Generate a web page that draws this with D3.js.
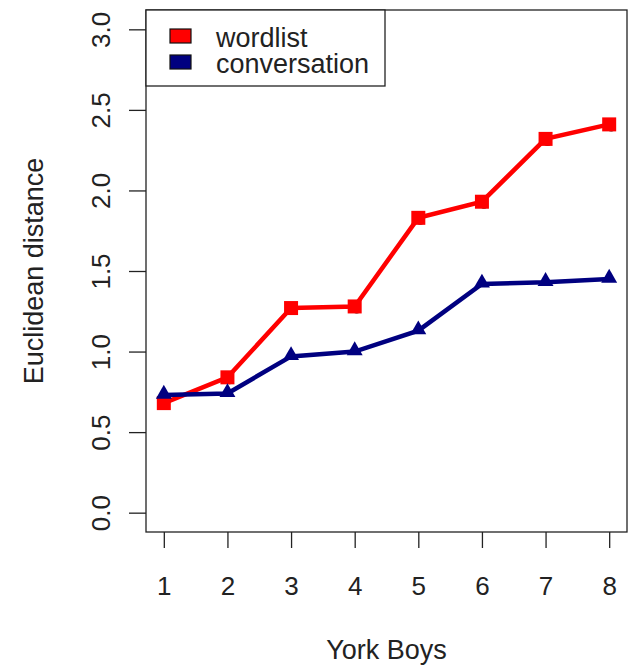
<!DOCTYPE html>
<html>
<head>
<meta charset="utf-8">
<script src="https://cdn.jsdelivr.net/npm/d3@7"></script>
<style>
  body { margin: 0; background: #fff; }
  text { font-family: "Liberation Sans", Arial, sans-serif; fill: #222; }
</style>
</head>
<body>
<script>
// data
var boys = [1, 2, 3, 4, 5, 6, 7, 8];
var wordlist = [0.68, 0.84, 1.27, 1.28, 1.83, 1.93, 2.32, 2.41];
var conversation = [0.73, 0.74, 0.97, 1.00, 1.13, 1.42, 1.43, 1.45];
var yTicks = [0, 0.5, 1, 1.5, 2, 2.5, 3];
var seriesNames = ["wordlist", "conversation"];
var seriesColors = ["#ff0000", "#000080"];

var W = 633, H = 665;
var box = {left: 146, right: 627, top: 10, bottom: 532};

var svg = d3.select("body").append("svg")
    .attr("width", W)
    .attr("height", H);

svg.append("rect")
    .attr("width", W).attr("height", H).attr("fill", "#fff");

// R style 4% padding on each side
var x = d3.scaleLinear()
    .domain([1 - 0.28, 8 + 0.28])
    .range([box.left, box.right]);
var y = d3.scaleLinear()
    .domain([-0.12, 3.12])
    .range([box.bottom, box.top]);

// x axis
var xAxis = svg.append("g")
    .attr("transform", "translate(0," + box.bottom + ")")
    .call(d3.axisBottom(x).tickValues(boys).tickFormat(d3.format("d")).tickSize(16).tickSizeOuter(0));
xAxis.select(".domain").remove();
xAxis.selectAll(".tick line").attr("stroke", "#222").attr("stroke-width", 1.3);
xAxis.selectAll(".tick text")
    .attr("font-size", "26px")
    .attr("y", 63)
    .attr("dy", null)
    .attr("font-family", "Liberation Sans, Arial, sans-serif")
    .attr("fill", "#222");

// y axis
var yAxis = svg.append("g")
    .attr("transform", "translate(" + box.left + ",0)")
    .call(d3.axisLeft(y).tickValues(yTicks).tickFormat(d3.format(".1f")).tickSize(17).tickSizeOuter(0));
yAxis.select(".domain").remove();
yAxis.selectAll(".tick line").attr("stroke", "#222").attr("stroke-width", 1.3);
yAxis.selectAll(".tick text")
    .attr("font-size", "26px")
    .attr("x", null).attr("dy", null)
    .attr("text-anchor", "middle")
    .attr("transform", "translate(-44,0) rotate(-90)")
    .attr("y", 8)
    .attr("font-family", "Liberation Sans, Arial, sans-serif")
    .attr("fill", "#222");

// plot box
svg.append("rect")
    .attr("x", box.left).attr("y", box.top)
    .attr("width", box.right - box.left)
    .attr("height", box.bottom - box.top)
    .attr("fill", "none")
    .attr("stroke", "#222")
    .attr("stroke-width", 1.3);

// axis titles
svg.append("text")
    .attr("x", (box.left + box.right) / 2)
    .attr("y", 659)
    .attr("text-anchor", "middle")
    .attr("font-size", "27px")
    .text("York Boys");

svg.append("text")
    .attr("transform", "translate(43," + ((box.top + box.bottom) / 2) + ") rotate(-90)")
    .attr("text-anchor", "middle")
    .attr("font-size", "27px")
    .text("Euclidean distance");

var line = d3.line()
    .x(function(d, i) { return x(boys[i]); })
    .y(function(d) { return y(d); });

// wordlist: black points underneath, then red line + squares
svg.selectAll(".shadow")
    .data(wordlist)
  .enter().append("circle")
    .attr("cx", function(d, i) { return x(boys[i]) + 2; })
    .attr("cy", function(d) { return y(d) + 3; })
    .attr("r", 4)
    .attr("fill", "#111");

svg.append("path")
    .datum(wordlist)
    .attr("d", line)
    .attr("fill", "none")
    .attr("stroke", seriesColors[0])
    .attr("stroke-width", 4.5);

svg.selectAll(".sq")
    .data(wordlist)
  .enter().append("rect")
    .attr("x", function(d, i) { return x(boys[i]) - 7; })
    .attr("y", function(d) { return y(d) - 7; })
    .attr("width", 14).attr("height", 14)
    .attr("fill", seriesColors[0]);

// conversation: navy line + triangles
svg.append("path")
    .datum(conversation)
    .attr("d", line)
    .attr("fill", "none")
    .attr("stroke", seriesColors[1])
    .attr("stroke-width", 4.5);

var tri = d3.symbol().type(d3.symbolTriangle).size(110);
svg.selectAll(".tri")
    .data(conversation)
  .enter().append("path")
    .attr("d", tri)
    .attr("transform", function(d, i) { return "translate(" + x(boys[i]) + "," + (y(d) - 1) + ")"; })
    .attr("fill", seriesColors[1]);

// legend
var legend = svg.append("g");
legend.append("rect")
    .attr("x", box.left).attr("y", box.top)
    .attr("width", 239).attr("height", 76)
    .attr("fill", "#fff")
    .attr("stroke", "#222")
    .attr("stroke-width", 1.3);

seriesNames.forEach(function(name, i) {
  var cy = 36 + i * 26;
  legend.append("rect")
      .attr("x", 170).attr("y", cy - 7)
      .attr("width", 21).attr("height", 14)
      .attr("fill", seriesColors[i])
      .attr("stroke", "#111")
      .attr("stroke-width", 1.2);
  legend.append("text")
      .attr("x", 216).attr("y", cy + 10.5)
      .attr("font-size", "27px")
      .text(name);
});
</script>
</body>
</html>
